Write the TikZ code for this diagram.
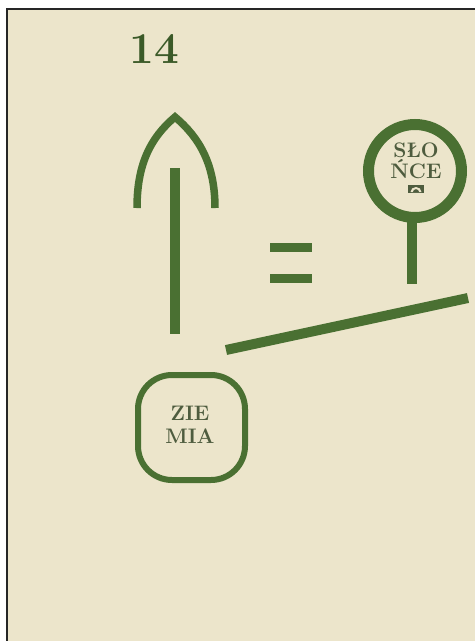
\documentclass[tikz,border=0pt]{standalone}
\definecolor{paper}{RGB}{236,229,203}
\definecolor{ink}{RGB}{74,112,50}
\definecolor{txt}{RGB}{78,92,62}
\tikzset{
  mark stroke/.style={draw=ink, line width=#1},
  label text/.style={text=txt, font=\fontsize{21}{#1}\selectfont\bfseries, align=center, inner sep=0pt},
}
\begin{document}
\begin{tikzpicture}[x=1pt,y=-1pt]
\useasboundingbox (0,0) rectangle (475,641);
\fill[white] (0,0) rectangle (475,641);
\fill[paper] (7,9) rectangle (475,641);
\draw[black!85, line width=1.6pt] (7,641) -- (7,9) -- (475,9);
% page number
\node[text=ink!80!black, font=\fontsize{44}{44}\selectfont\bfseries, inner sep=0pt, anchor=base] (num) at (154,63) {14};
% arrow: arch head and stem
\coordinate (apex) at (175,117);
\draw[mark stroke=7.5pt] (137,208) .. controls (137,165) and (150,138) .. (apex)
   .. controls (200,138) and (215,165) .. (215,208);
\coordinate (stemtop) at (175,168);
\coordinate (stembot) at (175,334);
\draw[mark stroke=10pt] (stemtop) -- (stembot);
% equals sign
\fill[ink] (270,243) rectangle (312,252);
\fill[ink] (270,274) rectangle (312,283);
% sun
\coordinate (sun) at (415,171);
\draw[mark stroke=11pt] (sun) circle (46.5);
\coordinate (suntop) at (412,221);
\coordinate (sunbot) at (412,284);
\draw[mark stroke=10pt] (suntop) -- (sunbot);
\node[label text=18, anchor=base] (slonce) at (416,178) {SŁO\\ŃCE};
\fill[txt] (408,185) rectangle (424,193);
\fill[paper] (410.5,192) arc[start angle=180, end angle=0, x radius=5.5, y radius=-5] -- cycle;
\fill[txt] (413,192) arc[start angle=180, end angle=0, x radius=3, y radius=-2.8] -- cycle;
% horizon line
\coordinate (hl) at (226,350);
\coordinate (hr) at (468,298);
\draw[mark stroke=10pt] (hl) -- (hr);
% earth
\draw[mark stroke=6pt, rounded corners=34pt] (138,375) rectangle (245,480);
\node[label text=23, anchor=base] (ziemia) at (190,443) {ZIE\\MIA};
\end{tikzpicture}
\end{document}
